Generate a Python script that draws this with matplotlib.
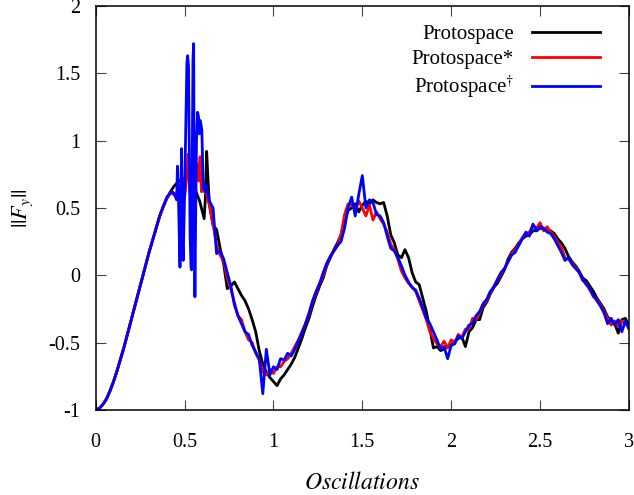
import numpy as np
import matplotlib.pyplot as plt

plt.rcParams['font.family'] = ['Liberation Serif', 'DejaVu Serif']
plt.rcParams['mathtext.fontset'] = 'stix'

# regular grid, step 0.02 (0 .. 3)
x_grid = np.round(np.arange(0, 3.001, 0.02), 2)

# common start (0 .. 0.38)
y_start = [-1.00, -0.99, -0.96, -0.92, -0.86, -0.79, -0.71, -0.62, -0.53, -0.43,
           -0.33, -0.23, -0.13, -0.03, 0.07, 0.17, 0.26, 0.35, 0.44, 0.51]

# grid values from 0.40 on (outside the burst window 0.44-0.64 they are used)
y_black_rest = [0.57, 0.62, 0.66, 0.69, 0.71, 0.72, 0.72, 0.69, 0.64, 0.55, 0.47, 0.60, 0.52,
                0.37, 0.34, 0.20, 0.08, -0.10, -0.08, -0.05, -0.10, -0.15, -0.19,
                -0.25, -0.33, -0.42, -0.56, -0.66, -0.72, -0.76, -0.79, -0.82, -0.77,
                -0.74, -0.70, -0.66, -0.61, -0.54, -0.47, -0.39, -0.32, -0.23, -0.15,
                -0.08, -0.02, 0.07, 0.13, 0.19, 0.24, 0.30, 0.40, 0.48, 0.50,
                0.53, 0.47, 0.52, 0.55, 0.53, 0.56, 0.54, 0.53, 0.54, 0.44,
                0.30, 0.24, 0.15, 0.13, 0.19, 0.13, 0.02, -0.05, -0.07, -0.17,
                -0.27, -0.40, -0.54, -0.53, -0.56, -0.55, -0.53, -0.52, -0.49, -0.47,
                -0.46, -0.53, -0.42, -0.39, -0.33, -0.33, -0.24, -0.20, -0.14, -0.09,
                -0.06, -0.01, 0.04, 0.12, 0.17, 0.20, 0.24, 0.27, 0.29, 0.30,
                0.33, 0.33, 0.35, 0.34, 0.33, 0.33, 0.31, 0.27, 0.24, 0.20,
                0.14, 0.10, 0.07, 0.03, -0.02, -0.04, -0.08, -0.12, -0.17, -0.21,
                -0.25, -0.31, -0.34, -0.36, -0.43, -0.33, -0.32, -0.38]

y_red_rest = [0.57, 0.61, 0.60, 0.57, 0.60, 0.58, 0.90, 0.56, 0.68, 0.70, 0.66, 0.66, 0.52,
              0.38, 0.22, 0.15, 0.10, -0.02, -0.10, -0.20, -0.30, -0.33, -0.42,
              -0.48, -0.50, -0.58, -0.63, -0.72, -0.74, -0.70, -0.73, -0.68, -0.68,
              -0.64, -0.62, -0.58, -0.53, -0.48, -0.42, -0.36, -0.29, -0.20, -0.13,
              -0.06, 0.00, 0.08, 0.14, 0.18, 0.22, 0.30, 0.45, 0.53, 0.52,
              0.49, 0.55, 0.50, 0.44, 0.52, 0.41, 0.47, 0.42, 0.38, 0.32,
              0.23, 0.19, 0.12, 0.03, -0.02, -0.06, -0.09, -0.12, -0.19, -0.26,
              -0.33, -0.42, -0.47, -0.51, -0.53, -0.49, -0.54, -0.48, -0.50, -0.44,
              -0.46, -0.40, -0.40, -0.32, -0.33, -0.28, -0.22, -0.19, -0.13, -0.08,
              -0.04, 0.01, 0.05, 0.10, 0.16, 0.19, 0.23, 0.28, 0.31, 0.32,
              0.37, 0.35, 0.39, 0.33, 0.36, 0.32, 0.29, 0.24, 0.21, 0.13,
              0.12, 0.09, 0.06, 0.02, -0.04, -0.06, -0.11, -0.16, -0.18, -0.22,
              -0.27, -0.32, -0.37, -0.34, -0.38, -0.34, -0.36, -0.38]

y_blue_rest = [0.58, 0.61, 0.61, 0.81, 0.94, 0.60, 1.63, 0.30, 1.72, 1.21, 0.80, 0.66, 0.55,
               0.50, 0.16, 0.18, 0.12, 0.02, -0.08, -0.22, -0.30, -0.36, -0.42,
               -0.44, -0.52, -0.57, -0.62, -0.88, -0.55, -0.74, -0.68, -0.70, -0.62,
               -0.63, -0.58, -0.60, -0.55, -0.49, -0.43, -0.36, -0.28, -0.19, -0.12,
               -0.06, 0.02, 0.09, 0.14, 0.18, 0.22, 0.25, 0.35, 0.50, 0.58,
               0.44, 0.60, 0.74, 0.50, 0.56, 0.54, 0.45, 0.44, 0.39, 0.29,
               0.20, 0.18, 0.13, 0.07, 0.00, -0.05, -0.09, -0.11, -0.17, -0.24,
               -0.32, -0.36, -0.42, -0.48, -0.55, -0.53, -0.62, -0.52, -0.51, -0.45,
               -0.47, -0.42, -0.37, -0.36, -0.30, -0.27, -0.21, -0.18, -0.12, -0.09,
               -0.03, 0.02, 0.05, 0.10, 0.15, 0.17, 0.22, 0.27, 0.32, 0.29,
               0.38, 0.33, 0.36, 0.35, 0.32, 0.31, 0.27, 0.22, 0.17, 0.11,
               0.13, 0.08, 0.05, 0.02, -0.03, -0.07, -0.10, -0.15, -0.19, -0.23,
               -0.28, -0.36, -0.32, -0.37, -0.33, -0.42, -0.34, -0.40]

# finer samples in the burst window 0.44 .. 0.64
x_burst_black = [0.44, 0.46, 0.48, 0.50, 0.52, 0.54, 0.555, 0.57, 0.585, 0.60, 0.61,
                 0.618, 0.624, 0.632, 0.64]
y_burst_black = [0.66, 0.69, 0.71, 0.72, 0.72, 0.69, 0.66, 0.60, 0.55, 0.47, 0.42,
                 0.60, 0.92, 0.70, 0.52]

x_burst_red = [0.44, 0.45, 0.46, 0.47, 0.48, 0.49, 0.50, 0.51, 0.52, 0.53, 0.54,
               0.55, 0.56, 0.57, 0.58, 0.587, 0.595, 0.60, 0.61, 0.62, 0.63, 0.64]
y_burst_red = [0.60, 0.58, 0.57, 0.66, 0.60, 0.72, 0.58, 0.70, 0.90, 0.62, 0.56,
               0.75, 0.68, 0.83, 0.70, 0.88, 0.62, 0.66, 0.62, 0.66, 0.56, 0.52]

x_burst_blue = [0.43, 0.44, 0.45, 0.455, 0.46, 0.465, 0.474, 0.478, 0.483, 0.487, 0.492,
                0.50, 0.508, 0.513, 0.517, 0.522, 0.526, 0.531, 0.536, 0.539, 0.543,
                0.547, 0.551, 0.554, 0.558, 0.562, 0.567, 0.573, 0.578, 0.583, 0.587,
                0.592, 0.597, 0.602, 0.606, 0.611, 0.618, 0.625, 0.632, 0.64]
y_burst_blue = [0.62, 0.61, 0.58, 0.56, 0.81, 0.60, 0.06, 0.50, 0.94, 0.30, 0.11,
                0.60, 1.20, 1.58, 1.63, 1.55, 1.00, 0.30, 0.06, 0.04, 0.80,
                1.60, 1.72, 0.60, -0.16, 0.40, 1.00, 1.21, 1.18, 1.05, 1.15,
                1.12, 1.08, 0.80, 0.64, 0.68, 0.62, 0.66, 0.60, 0.55]

labels = ['Protospace', 'Protospace*', r'Protospace$^{\dagger}$']
colors = ['black', 'red', 'blue']


def build(rest, xb, yb):
    y = np.array(y_start + rest)
    keep = (x_grid < xb[0]) | (x_grid > xb[-1])
    xs = np.concatenate([x_grid[keep], xb])
    ys = np.concatenate([y[keep], yb])
    order = np.argsort(xs, kind='stable')
    return xs[order], ys[order]


series = [build(y_black_rest, x_burst_black, y_burst_black),
          build(y_red_rest, x_burst_red, y_burst_red),
          build(y_blue_rest, x_burst_blue, y_burst_blue)]

fig = plt.figure(figsize=(6.34, 4.95), dpi=100)
ax = fig.add_axes([0.151, 0.172, 0.841, 0.816])

for (xs, ys), c, lab in zip(series, colors, labels):
    ax.plot(xs, ys, color=c, lw=2.0, label=lab)

ax.set_xlim(0, 3)
ax.set_ylim(-1, 2)
ax.set_xticks([0, 0.5, 1, 1.5, 2, 2.5, 3])
ax.set_xticklabels(['0', '0.5', '1', '1.5', '2', '2.5', '3'])
ax.set_yticks([-1, -0.5, 0, 0.5, 1, 1.5, 2])
ax.set_yticklabels(['-1', '-0.5', '0', '0.5', '1', '1.5', '2'])
ax.tick_params(direction='in', length=7, width=0.8, top=True, right=True,
               labelsize=14.5, color='#444444')
ax.tick_params(axis='x', pad=17)
ax.tick_params(axis='y', pad=11)
for s in ax.spines.values():
    s.set_linewidth(1.1)

ax.set_xlabel(r'$Oscillations$', fontsize=17, labelpad=14)
ax.set_ylabel(r'$||F_y||$', fontsize=16, labelpad=10)

ax.legend(loc='upper right', bbox_to_anchor=(0.97, 0.985), frameon=False,
          markerfirst=False, fontsize=15, handlelength=3.3,
          handletextpad=0.85, labelspacing=0.25, borderaxespad=0.2)

fig.savefig('out.png', dpi=100)
